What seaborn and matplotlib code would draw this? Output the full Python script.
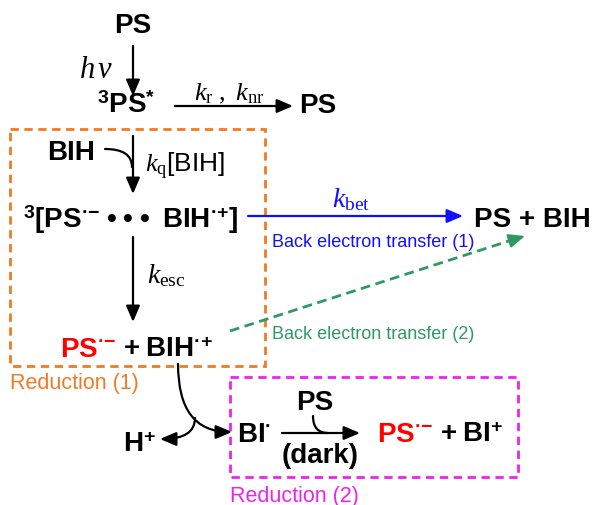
import matplotlib.pyplot as plt
from matplotlib.patches import Rectangle, FancyArrowPatch
import seaborn as sns

# species / labels of the scheme
species = ["PS", r"$^{\mathbf{3}}\mathbf{PS}^{\mathbf{*}}$", "PS", "BIH",
           r"$^{\mathbf{3}}\mathbf{[PS}^{\mathbf{·{−}}}\ \mathbf{•\ •\ •}\ \ \mathbf{BIH}^{\mathbf{·{+}}}\mathbf{]}$",
           "PS + BIH"]
products_red = [r"$\mathbf{PS}^{\mathbf{·{−}}}$", r"$\mathbf{PS}^{\mathbf{·{−}}}$"]
products_black = [r"$\mathbf{+\ BIH}^{\mathbf{·{+}}}$", r"$\mathbf{H}^{\mathbf{+}}$",
                  r"$\mathbf{BI}^{\mathbf{·}}$", "PS", "(dark)", r"$\mathbf{+\ BI}^{\mathbf{+}}$"]
rates = [r"$h\,\nu$", r"$k_{\mathrm{r}}\ ,\ k_{\mathrm{nr}}$", r"$k_{\mathrm{q}}\mathsf{[BIH]}$",
         r"$k_{\mathrm{esc}}$", r"$k_{\mathrm{bet}}$"]
processes = ["Back electron transfer (1)", "Back electron transfer (2)", "Reduction (1)", "Reduction (2)"]

sns.set_theme(style="white")
plt.rcParams["font.family"] = ["Liberation Sans", "DejaVu Sans"]
plt.rcParams["text.color"] = "black"
plt.rcParams["mathtext.fontset"] = "custom"
plt.rcParams["mathtext.rm"] = "Liberation Serif"
plt.rcParams["mathtext.it"] = "Liberation Serif:italic"
plt.rcParams["mathtext.bf"] = "Liberation Sans:bold"
plt.rcParams["mathtext.sf"] = "Liberation Sans"

ORANGE = "#f07a22"
MAGENTA = "#ee22ee"
BLUE = "#1010ff"
GREEN = "#2e9a62"
RED = "#ff0000"

fig = plt.figure(figsize=(5.97, 5.06), dpi=100)
ax = fig.add_axes([0, 0, 1, 1])
ax.set_xlim(0, 597)
ax.set_ylim(506, 0)
ax.axis("off")

BOLD = dict(fontsize=20, fontweight="bold", va="baseline", color="black")


def arrow(p0, p1, color="black", conn="arc3", head=True, lw=1.6):
    style = "-|>,head_length=0.75,head_width=0.32" if head else "-"
    ax.add_patch(FancyArrowPatch(p0, p1, arrowstyle=style, mutation_scale=13,
                                 color=color, lw=lw, connectionstyle=conn,
                                 shrinkA=0, shrinkB=0))


# dashed boxes
ax.add_patch(Rectangle((10, 130), 255, 237, fill=False, ec=ORANGE, lw=2,
                       linestyle=(0, (3, 2))))
ax.add_patch(Rectangle((230, 378), 288, 100, fill=False, ec=MAGENTA, lw=2,
                       linestyle=(0, (3, 2))))

# species
ax.text(133, 33, species[0], ha="center", **BOLD)
ax.text(126, 113, species[1], ha="center", **BOLD)
ax.text(318, 113, species[2], ha="center", **BOLD)
ax.text(71, 160, species[3], ha="center", **BOLD)
ax.text(131, 228, species[4], ha="center", **BOLD)
ax.text(532, 227, species[5], ha="center", **BOLD)

red = dict(BOLD, color=RED)
ax.text(60, 357, products_red[0], ha="left", **red)
ax.text(123, 357, products_black[0], ha="left", **BOLD)
ax.text(123, 452, products_black[1], ha="left", **BOLD)
ax.text(237, 442, products_black[2], ha="left", **BOLD)
ax.text(315, 410, products_black[3], ha="center", **BOLD)
ax.text(320, 463, products_black[4], ha="center", **BOLD)
ax.text(377, 442, products_red[1], ha="left", **red)
ax.text(440, 442, products_black[5], ha="left", **BOLD)

# rate constants
ax.text(96, 78, rates[0], ha="center", va="baseline", fontsize=22, color="black")
ax.text(194, 100, rates[1], ha="left", va="baseline", fontsize=19, color="black")
ax.text(145, 172, rates[2], ha="left", va="baseline", fontsize=19, color="black")
ax.text(147, 283, rates[3], ha="left", va="baseline", fontsize=20, color="black")
ax.text(332, 207, rates[4], ha="left", va="baseline", fontsize=20, color=BLUE)

# process labels
ax.text(272, 247, processes[0], ha="left", va="baseline", fontsize=13, color=BLUE)
ax.text(272, 339, processes[1], ha="left", va="baseline", fontsize=13, color=GREEN)
ax.text(10, 389, processes[2], ha="left", va="baseline", fontsize=15.5, color=ORANGE)
ax.text(230, 502, processes[3], ha="left", va="baseline", fontsize=15.5, color=MAGENTA)

# straight arrows
arrow((133, 47), (133, 97))
arrow((175, 107), (293, 107))
arrow((133, 137), (133, 195))
arrow((248, 217), (463, 217), color=BLUE)
arrow((133, 238), (133, 323))
arrow((282, 434), (360, 434))

# curved hooks / arrows
arrow((105, 150), (132, 168), conn="angle3,angleA=0,angleB=90", head=False)
arrow((313, 417), (328, 434), conn="angle3,angleA=90,angleB=0", head=False)
arrow((178, 365), (232, 433), conn="angle3,angleA=90,angleB=0")
arrow((195, 419), (160, 440), conn="angle3,angleA=90,angleB=0")

# green dashed arrow
ax.plot([230, 515], [332, 240], color=GREEN, lw=2, linestyle=(0, (3.5, 2)))
arrow((512, 241), (525, 237), color=GREEN)

fig.savefig("out.png", dpi=100)
